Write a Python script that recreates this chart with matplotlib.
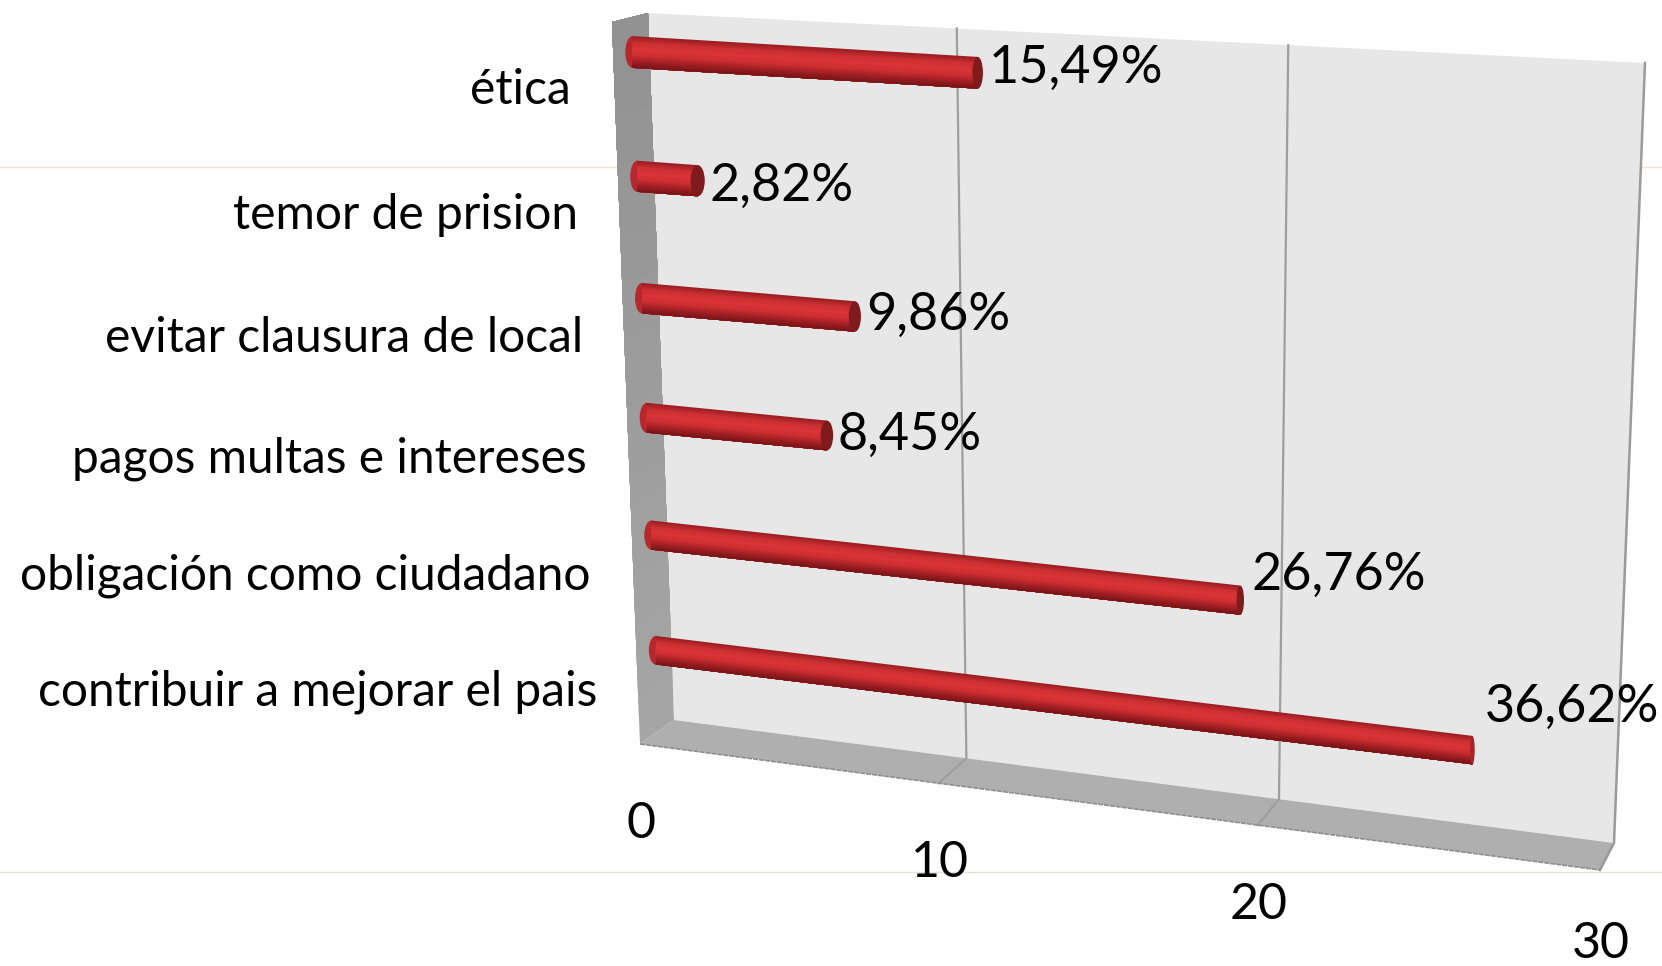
import numpy as np
import matplotlib
matplotlib.use("Agg")
import matplotlib.pyplot as plt
from matplotlib.patches import Ellipse, Polygon

# datos
categorias = ["contribuir a mejorar el pais", "obligación como ciudadano", "pagos multas e intereses",
              "evitar clausura de local", "temor de prision", "ética"]
respuestas = [26, 19, 6, 7, 2, 11]
porcentajes = ["36,62%", "26,76%", "8,45%", "9,86%", "2,82%", "15,49%"]
ticks = [0, 10, 20, 30]

# donde van los textos (a mano, en pixeles)
cat_x = [597, 591, 587, 583, 578, 571]
cat_y = [692, 576, 459, 338, 215, 90]
pct_x = [1485, 1252, 838, 866, 710, 989]
pct_y = [707, 575, 435, 315, 186, 68]

plt.rcParams["font.family"] = ["Lato", "DejaVu Sans"]
fig = plt.figure(figsize=(16.62, 9.66), dpi=100)
ax = fig.add_axes([0, 0, 1, 1])
ax.set_xlim(0, 1662)
ax.set_ylim(966, 0)
ax.axis("off")


# perspectiva: pasa del cuadrado (0..1, 0..1) a los 4 vertices
def homografia(bl, br, tr, tl):
    src = [(0, 0), (1, 0), (1, 1), (0, 1)]
    dst = [bl, br, tr, tl]
    A = []
    b = []
    for (u, v), (x, y) in zip(src, dst):
        A.append([u, v, 1, 0, 0, 0, -u * x, -v * x])
        A.append([0, 0, 0, u, v, 1, -u * y, -v * y])
        b += [x, y]
    h = np.linalg.solve(np.array(A, float), np.array(b, float))
    H = np.append(h, 1).reshape(3, 3)

    def f(u, v):
        p = H @ np.array([u, v, 1.0])
        return p[0] / p[2], p[1] / p[2]
    return f


XMAX = ticks[-1]
pared = homografia((674, 720), (1614, 843), (1645, 63), (648, 13))
medio = homografia((659, 732), (1607, 856), (1638, 74), (631, 17))
frente_izq = np.array((640, 744), float)
frente_der = np.array((1600, 870), float)


# borde delantero del piso, con el mismo reparto que el borde de atras
def frente(u):
    x = pared(u, 0)[0]
    t = (x - pared(0, 0)[0]) / (pared(1, 0)[0] - pared(0, 0)[0])
    return frente_izq + (frente_der - frente_izq) * t


# lineas de la diapositiva
ax.plot([0, 1662], [871.5, 871.5], color="#E6E1D2", lw=1, zorder=1)
ax.plot([0, 618], [166.5, 166.5], color="#EDE2CC", lw=1, zorder=1)
ax.plot([1640, 1662], [166.5, 166.5], color="#EDE2CC", lw=1, zorder=1)

# paredes
ax.add_patch(Polygon([pared(0, 0), pared(1, 0), pared(1, 1), pared(0, 1)], fc="#E7E7E7", ec="none", zorder=2))
ax.add_patch(Polygon([frente(0), frente(1), pared(1, 0), pared(0, 0)], fc="#AFAFAF", ec="none", zorder=2))
izq_f = np.array([(640, 744), (612, 22)], float)
izq_b = np.array([(674, 720), (648, 13)], float)
for i in range(30):
    a = i / 30
    p = [izq_f[0] + (izq_f[1] - izq_f[0]) * a, izq_b[0] + (izq_b[1] - izq_b[0]) * a, izq_b[1], izq_f[1]]
    g = 0.65 - 0.08 * a
    ax.add_patch(Polygon(p, fc=(g, g, g), ec="none", zorder=2))

# grilla
for t in ticks[1:-1]:
    u = t / XMAX
    x1, y1 = pared(u, 0)
    x2, y2 = pared(u, 1)
    x3, y3 = frente(u)
    ax.plot([x2, x1, x3], [y2, y1, y3], color="#9E9E9E", lw=1.6, zorder=3)
ax.plot(*zip(pared(1, 1), pared(1, 0), frente(1)), color="#9A9A9A", lw=1.8, zorder=3)
ax.plot(*zip(frente(0), frente(1)), color="#8F8F8F", lw=1.2, ls=(0, (3, 0.6)), zorder=3)

# barras (cilindros hechos con tiras, cada una tapa a la anterior)
pos = [0, 0.22, 0.42, 0.6, 0.8, 1]
col = np.array([[150, 28, 32], [205, 48, 52], [218, 52, 56], [205, 46, 50], [160, 30, 34], [115, 20, 24]]) / 255
n = 16
for i, valor in enumerate(respuestas):
    v = (i + 0.5) / len(categorias) + 0.037
    x0, y0 = medio(0, v)
    x1, y1 = medio(valor / XMAX, v)
    alto = 28 + 4 * v
    ancho = max(4, 15 - 0.4 * valor)
    ax.add_patch(Ellipse((x0, y0), 14, alto, fc="#B5282C", ec="none", zorder=4))
    for j in range(n):
        a = j / n - 0.5
        c = [np.interp((j + 0.5) / n, pos, col[:, k]) for k in range(3)]
        ax.add_patch(Polygon([(x0, y0 + a * alto), (x1, y1 + a * alto), (x1, y1 + 0.5 * alto),
                              (x0, y0 + 0.5 * alto)], fc=c, ec="none", zorder=4))
    tapa = "#7F1A1D" if ancho > 6 else "#A92428"
    ax.add_patch(Ellipse((x1, y1), ancho, alto, fc=tapa, ec="none", zorder=5))

# textos
for nombre, x, y in zip(categorias, cat_x, cat_y):
    ax.text(x, y, nombre, ha="right", va="center", fontsize=34.5, color="black", zorder=6)
for texto, x, y in zip(porcentajes, pct_x, pct_y):
    ax.text(x, y, texto, ha="left", va="center", fontsize=37.5, color="black", zorder=6)
for t in ticks:
    x, y = frente(t / XMAX)
    # el 30 queda justo contra el borde de abajo
    ax.text(x + 1, min(y + 80, 944), str(t), ha="center", va="center", fontsize=36, color="black", zorder=6)

fig.savefig("out.png", dpi=100)
